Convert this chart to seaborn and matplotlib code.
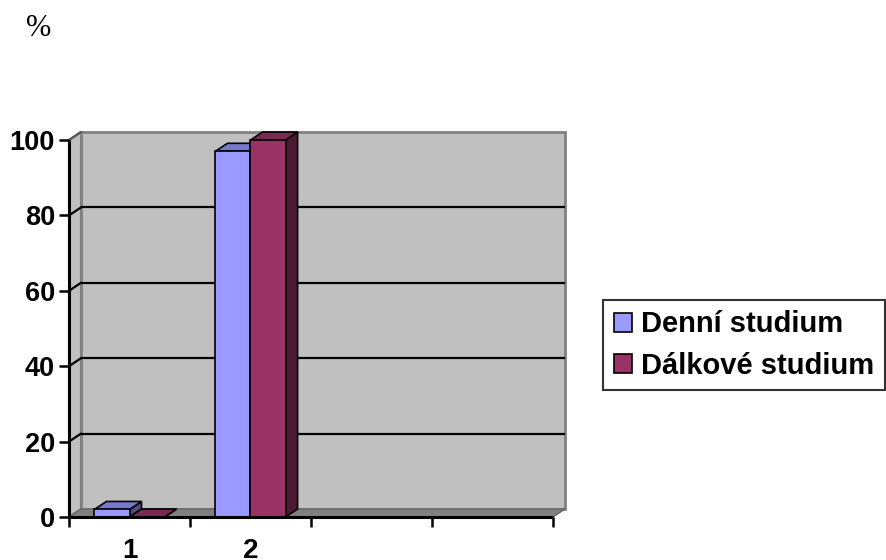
import numpy as np
import pandas as pd
import seaborn as sns
import matplotlib.pyplot as plt
from matplotlib.patches import Polygon, Patch

sns.set_theme(style="white")
plt.rcParams["font.family"] = ["Liberation Sans", "DejaVu Sans"]
plt.rcParams.update({"text.color": "black", "axes.labelcolor": "black",
                     "xtick.color": "black", "ytick.color": "black"})

# --- data -------------------------------------------------------------
categories = ["1", "2", "3", "4"]
tick_labels = ["1", "2", "", ""]
series_names = ["Denní studium", "Dálkové studium"]
denni = [2, 97, np.nan, np.nan]
dalkove = [0, 100, np.nan, np.nan]
y_ticks = [0, 20, 40, 60, 80, 100]

front_colors = ["#9999FF", "#993366"]
top_colors = ["#7777CC", "#7A2952"]
side_colors = ["#4D4D80", "#4D1A33"]

df = pd.DataFrame({
    "kategorie": categories * 2,
    "studium": [series_names[0]] * 4 + [series_names[1]] * 4,
    "hodnota": denni + dalkove,
})

fig = plt.figure(figsize=(8.86, 5.6), dpi=100)
W, H = 886, 560
ax_left, ax_right, ax_top, ax_bottom = 69, 553, 140, 517
ax = fig.add_axes([ax_left / W, 1 - ax_bottom / H,
                   (ax_right - ax_left) / W, (ax_bottom - ax_top) / H])
ax.set_facecolor("none")

sns.barplot(data=df.dropna(), x="kategorie", y="hodnota", hue="studium",
            order=categories, hue_order=series_names,
            palette=front_colors, width=0.58, saturation=1,
            edgecolor="black", linewidth=1.2, legend=False, ax=ax)

# bars drawn by seaborn, with the series index of each
bars = []
for si, cont in enumerate(ax.containers):
    for p in cont.patches:
        if np.isfinite(p.get_height()):
            bars.append((p, si))
bars.sort(key=lambda t: t[0].get_x())

ax.set_xlim(-0.5, 3.5)
ax.set_ylim(0, 100)
for s in ax.spines.values():
    s.set_visible(False)

# depth of the pseudo-3D box, in data units
depth_px_x, depth_px_y = 12, 8
dx = depth_px_x / (ax_right - ax_left) * 4.0
dy = depth_px_y / (ax_bottom - ax_top) * 100.0

x0, x1 = -0.5, 3.5
wall_c, floor_c, edge_c = "#C0C0C0", "#808080", "#808080"

# back wall
ax.add_patch(Polygon([(x0 + dx, dy), (x1 + dx, dy), (x1 + dx, 100 + dy), (x0 + dx, 100 + dy)],
                     closed=True, facecolor=wall_c, edgecolor=edge_c, lw=2,
                     zorder=0.1, clip_on=False))
# side wall
ax.add_patch(Polygon([(x0, 0), (x0 + dx, dy), (x0 + dx, 100 + dy), (x0, 100)],
                     closed=True, facecolor=wall_c, edgecolor=edge_c, lw=1.5,
                     zorder=0.2, clip_on=False))
# floor
ax.add_patch(Polygon([(x0, 0), (x1, 0), (x1 + dx, dy), (x0 + dx, dy)],
                     closed=True, facecolor=floor_c, edgecolor="#666666", lw=1,
                     zorder=0.3, clip_on=False))

# gridlines on back wall and side wall
for v in y_ticks[1:]:
    if v < 100:
        ax.plot([x0 + dx, x1 + dx], [v + dy, v + dy], color="black", lw=1.6,
                zorder=0.5, clip_on=False, solid_capstyle="butt")
    ax.plot([x0, x0 + dx], [v, v + dy], color="black" if v < 100 else "#555555",
            lw=1.6, zorder=0.5, clip_on=False)

# 3D faces for each bar
for i, (p, idx) in enumerate(bars):
    bx, bw, bh = p.get_x(), p.get_width(), p.get_height()
    z = 2 + i * 0.1
    side = Polygon([(bx + bw, 0), (bx + bw + dx, dy), (bx + bw + dx, bh + dy), (bx + bw, bh)],
                   closed=True, facecolor=side_colors[idx], edgecolor="black",
                   lw=1.2, zorder=z, clip_on=False)
    top = Polygon([(bx, bh), (bx + bw, bh), (bx + bw + dx, bh + dy), (bx + dx, bh + dy)],
                  closed=True, facecolor=top_colors[idx], edgecolor="black",
                  lw=1.2, zorder=z + 0.01, clip_on=False)
    ax.add_patch(side)
    ax.add_patch(top)
    p.set_zorder(z + 0.05)
    p.set_clip_on(False)

# axis lines
ax.plot([x0, x0], [0, 100], color="black", lw=2.2, zorder=5, clip_on=False,
        solid_capstyle="butt")
ax.plot([x0, x1], [0, 0], color="black", lw=2.2, zorder=5, clip_on=False,
        solid_capstyle="butt")

# ticks
ax.set_yticks(y_ticks)
ax.set_yticklabels([str(v) for v in y_ticks], fontsize=19.5, fontweight="bold")
ax.set_xticks([-0.5, 0.5, 1.5, 2.5, 3.5])
ax.set_xticklabels([""] * 5)
ax.set_xticks([0, 1, 2, 3], minor=True)
ax.set_xticklabels(tick_labels, minor=True, fontsize=20, fontweight="bold")
ax.tick_params(axis="y", which="major", direction="out", length=7.5, width=1.8,
               color="black", left=True, pad=2.5)
ax.tick_params(axis="x", which="major", direction="out", length=7, width=1.8,
               color="black", bottom=True)
ax.tick_params(axis="x", which="minor", length=0, pad=15)
ax.set_xlabel("")
ax.set_ylabel("")

# legend
handles = [Patch(facecolor=c, edgecolor="black", lw=1.2) for c in front_colors]
leg = fig.legend(handles, series_names, loc="upper left",
                 bbox_to_anchor=(603 / W, 1 - 300 / H),
                 prop={"size": 21, "weight": "bold"},
                 frameon=True, fancybox=False, edgecolor="black",
                 handlelength=0.65, handleheight=0.65, handletextpad=0.3,
                 borderpad=0.36, labelspacing=0.45, borderaxespad=0)
leg.get_frame().set_linewidth(1.5)

# unit label
fig.text(39 / W, 1 - 28 / H, "%", fontsize=22, family=["Liberation Serif", "DejaVu Serif"],
         ha="center", va="center")

fig.savefig("out.png", dpi=100, facecolor="white")
